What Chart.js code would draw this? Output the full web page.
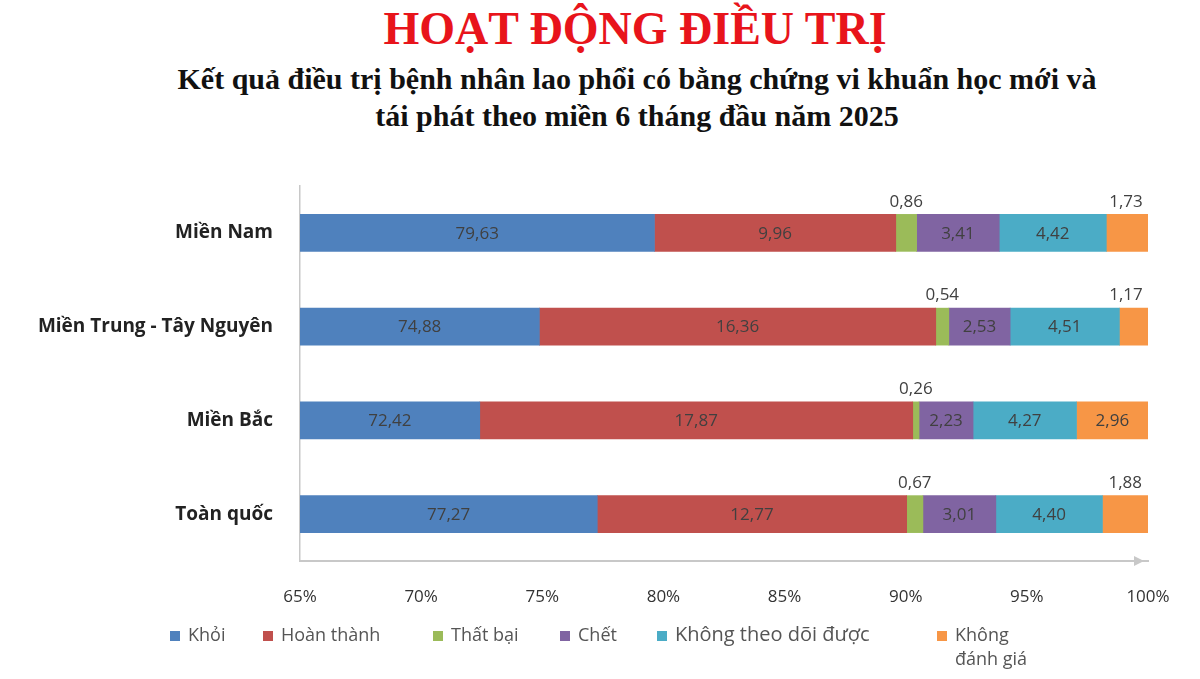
<!DOCTYPE html>
<html>
<head>
<meta charset="utf-8">
<script src="https://cdn.jsdelivr.net/npm/chart.js@4"></script>
<style>
body { margin:0; width:1200px; height:679px; background:#fff; position:relative; overflow:hidden; }
#title { position:absolute; top:2px; left:0; width:1270px; text-align:center; font-family:"Liberation Serif",serif; font-weight:bold; font-size:46px; color:#e8141b; }
#sub { position:absolute; top:60px; left:0; width:1274px; text-align:center; font-family:"Liberation Serif",serif; font-weight:bold; font-size:30px; line-height:37px; color:#111; }
#wrap { position:absolute; left:0; top:0; width:1200px; height:679px; }
#legend { position:absolute; top:622px; left:170px; font-family:"Open Sans",sans-serif; font-size:18px; color:#555; }
#legend span.it { position:absolute; white-space:nowrap; line-height:24px; }
#legend i { display:inline-block; width:10px; height:10px; margin-right:8px; }
</style>
</head>
<body>
<div id="title">HOẠT ĐỘNG ĐIỀU TRỊ</div>
<div id="sub">Kết quả điều trị bệnh nhân lao phổi có bằng chứng vi khuẩn học mới và<br>tái phát theo miền 6 tháng đầu năm 2025</div>
<div id="wrap"><canvas id="c" width="1200" height="679"></canvas></div>
<div id="legend"></div>
<script>
// dữ liệu
const regions = ['Miền Nam', 'Miền Trung - Tây Nguyên', 'Miền Bắc', 'Toàn quốc'];
const seriesNames = ['Khỏi', 'Hoàn thành', 'Thất bại', 'Chết', 'Không theo dõi được', 'Không đánh giá'];
const colors = ['#4f81bd', '#c0504d', '#9bbb59', '#8064a2', '#4bacc6', '#f79646'];
const khoi = [79.63, 74.88, 72.42, 77.27];
const hoanThanh = [9.96, 16.36, 17.87, 12.77];
const thatBai = [0.86, 0.54, 0.26, 0.67];
const chet = [3.41, 2.53, 2.23, 3.01];
const khongTheoDoi = [4.42, 4.51, 4.27, 4.40];
const khongDanhGia = [1.73, 1.17, 2.96, 1.88];
const xTicks = [65, 70, 75, 80, 85, 90, 95, 100];

const allSeries = [khoi, hoanThanh, thatBai, chet, khongTheoDoi, khongDanhGia];

// legend HTML
const legendPos = [0, 93, 263, 390, 487, 767];
const lg = document.getElementById('legend');
seriesNames.forEach((n, i) => {
    const s = document.createElement('span');
    s.className = 'it';
    s.style.left = legendPos[i] + 'px';
    let txt = n;
    if (i === 5) txt = 'Không<br><span style="margin-left:18px">đánh giá</span>';
    if (i === 4) s.style.fontSize = '20px';
    s.innerHTML = '<i style="background:' + colors[i] + '"></i>' + txt;
    lg.appendChild(s);
});

const fmt = v => v.toFixed(2).replace('.', ',');

// nhãn số liệu
const labelPlugin = {
    id: 'labels',
    afterDatasetsDraw(chart) {
        const ctx = chart.ctx;
        const a = chart.chartArea;
        ctx.save();
        ctx.font = '17px "Open Sans", sans-serif';
        ctx.fillStyle = '#404040';
        ctx.textAlign = 'center';
        ctx.textBaseline = 'middle';
        chart.data.datasets.forEach((ds, di) => {
            chart.getDatasetMeta(di).data.forEach((bar, i) => {
                const v = ds.data[i];
                const left = Math.max(bar.base, a.left), right = bar.x;
                let cx = (left + right) / 2;
                if (v < 2) {
                    cx = Math.min(cx, a.right - 22);
                    ctx.fillText(fmt(v), cx, bar.y - 31);
                } else {
                    ctx.fillText(fmt(v), cx, bar.y + 1);
                }
            });
        });
        // mũi tên trục x
        const y = chart.scales.x.top;
        ctx.fillStyle = '#c8c8c8';
        ctx.beginPath();
        ctx.moveTo(a.right - 14, y - 5);
        ctx.lineTo(a.right - 4, y);
        ctx.lineTo(a.right - 14, y + 5);
        ctx.fill();
        ctx.restore();
    }
};

new Chart(document.getElementById('c'), {
    type: 'bar',
    data: {
        labels: regions,
        datasets: allSeries.map((d, i) => ({
            label: seriesNames[i],
            data: d,
            backgroundColor: colors[i],
            barThickness: 37
        }))
    },
    options: {
        indexAxis: 'y',
        responsive: false,
        animation: false,
        layout: { padding: { left: 0, right: 52, top: 186 } },
        plugins: { legend: { display: false }, tooltip: { enabled: false } },
        scales: {
            x: {
                stacked: true,
                min: 65, max: 100,
                afterBuildTicks: s => { s.ticks = xTicks.map(v => ({ value: v })); },
                grid: { display: false, drawTicks: false },
                border: { color: '#c8c8c8', width: 2 },
                ticks: { padding: 26, color: '#333', font: { size: 17, family: '"Open Sans", sans-serif' }, callback: v => v + '%' },
                afterFit: s => { s.height = 118; }
            },
            y: {
                stacked: true,
                grid: { display: false, drawTicks: false },
                border: { color: '#c8c8c8', width: 1.5 },
                ticks: { padding: 27, color: '#222', font: { size: 19, weight: 'bold', family: '"Open Sans", sans-serif' } },
                afterFit: s => { s.width = 300; }
            }
        }
    },
    plugins: [labelPlugin]
});
</script>
</body>
</html>
